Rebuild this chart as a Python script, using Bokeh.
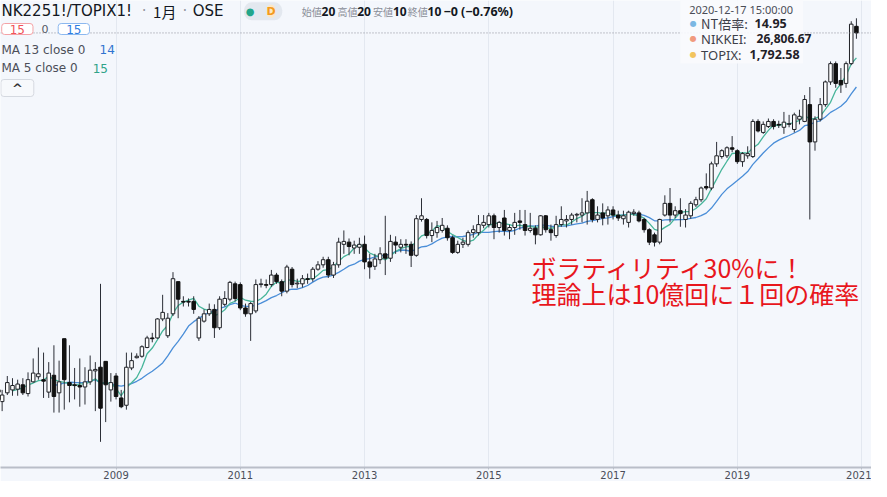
from bokeh.plotting import figure
from bokeh.models import Label, FixedTicker, Span, ColumnDataSource, Range1d, BoxAnnotation
from bokeh.embed import file_html
from bokeh.resources import INLINE

# ---- monthly NT ratio (NK225 futures / TOPIX futures), Jan 2007 .. Dec 2020 ----
opens = [10.07,10.00,9.91,10.03,10.07,10.08,10.14,10.02,10.18,10.25,10.21,10.04,
         10.27,10.03,10.77,10.17,10.14,10.13,10.11,10.18,10.33,10.38,10.46,10.07,
         10.26,9.96,9.86,10.37,10.51,10.53,10.65,10.78,10.78,11.04,10.81,11.11,
         11.55,11.28,11.28,11.28,10.78,11.01,11.11,11.17,10.92,11.24,11.31,11.52,
         11.51,11.19,11.11,11.15,11.51,11.51,11.51,11.64,11.55,11.42,11.72,11.52,
         11.52,11.59,11.59,11.72,11.78,11.85,11.64,11.78,12.06,12.09,12.01,12.02,
         12.06,11.82,11.76,11.85,11.93,11.87,12.09,12.02,12.06,12.06,11.91,12.40,
         12.40,12.18,12.22,12.25,12.28,12.15,11.95,12.06,12.06,12.22,12.22,12.32,
         12.33,12.45,12.29,12.42,12.25,12.29,12.38,12.33,12.25,12.28,12.19,12.45,
         12.26,12.18,12.33,12.38,12.40,12.46,12.46,12.49,12.67,12.40,12.49,12.45,
         12.53,12.46,12.41,12.36,12.48,12.49,12.40,12.26,12.19,12.09,12.46,12.62,
         12.46,12.52,12.40,12.45,12.60,12.67,12.85,12.83,13.16,13.26,13.27,13.38,
         13.34,13.19,13.27,13.26,13.74,13.59,13.67,13.74,13.70,13.66,13.70,13.63,
         13.77,13.74,13.97,13.46,13.77,13.97,14.28,14.53,14.30,14.26,14.53,15.04]
highs = [10.14,10.10,10.07,10.26,10.23,10.21,10.23,10.31,10.50,10.65,10.58,10.45,
         10.68,10.47,10.77,10.68,10.37,10.50,10.38,10.54,10.45,11.52,10.46,10.30,
         10.30,10.07,10.58,10.58,10.57,10.68,10.81,10.85,11.05,11.37,11.12,11.68,
         11.55,11.35,11.32,11.35,11.08,11.17,11.25,11.24,11.35,11.42,11.56,11.55,
         11.54,11.25,11.27,11.58,11.59,11.58,11.71,11.67,11.58,11.78,11.75,11.59,
         11.64,11.66,11.75,11.83,11.89,11.89,11.82,12.15,12.25,12.14,12.11,12.15,
         12.18,11.93,11.93,12.02,12.45,12.19,12.17,12.13,12.13,12.10,12.46,12.69,
         12.42,12.36,12.38,12.42,12.32,12.18,12.11,12.15,12.25,12.32,12.46,12.46,
         12.49,12.48,12.38,12.53,12.33,12.49,12.53,12.53,12.49,12.32,12.46,12.46,
         12.33,12.45,12.58,12.46,12.49,12.49,12.69,12.79,12.69,12.58,12.62,12.58,
         12.58,12.52,12.52,12.52,12.54,12.52,12.42,12.28,12.22,12.41,12.73,12.83,
         12.58,12.69,12.54,12.65,12.71,12.85,13.03,13.19,13.46,13.36,13.40,13.54,
         13.36,13.32,13.40,13.77,13.77,13.74,13.78,13.77,13.75,13.87,13.83,13.86,
         13.90,14.10,14.21,13.81,14.06,14.30,14.56,14.56,14.47,14.56,15.11,15.15]
lows = [9.94,9.84,9.78,10.00,9.99,9.99,10.00,9.98,10.17,10.21,9.96,9.96,
        9.76,9.76,9.80,9.90,9.94,9.84,9.87,10.14,9.78,9.36,9.63,9.91,
        9.94,9.82,9.80,10.34,10.50,10.51,10.64,10.72,10.77,11.01,10.78,11.08,
        11.05,11.21,11.21,11.11,10.74,10.99,11.08,10.78,10.89,11.21,11.28,11.28,
        11.16,11.07,10.74,11.12,11.47,11.46,11.48,11.52,11.35,11.39,11.47,11.46,
        11.47,11.52,11.55,11.70,11.74,11.60,11.60,11.74,11.93,11.91,11.93,11.93,
        11.72,11.59,11.71,11.79,11.64,11.82,11.93,11.95,11.93,11.75,11.89,12.37,
        12.14,12.09,12.15,12.22,12.11,11.93,11.93,12.01,12.03,12.15,12.18,12.28,
        12.29,12.13,12.22,12.18,12.13,12.19,12.26,12.18,12.22,12.06,12.18,12.22,
        12.11,12.15,12.30,12.29,12.33,12.36,12.36,12.33,12.36,12.36,12.32,12.33,
        12.40,12.38,12.33,12.29,12.45,12.36,12.22,12.05,12.03,12.06,12.44,12.36,
        12.42,12.30,12.29,12.41,12.57,12.64,12.80,12.80,13.12,13.23,13.24,13.32,
        13.16,13.12,13.23,13.24,13.59,13.57,13.65,13.63,13.65,13.57,13.66,13.59,
        13.70,13.73,12.40,13.34,13.74,13.94,14.24,14.20,14.13,14.20,14.51,14.87]
closes = [10.04,9.94,10.00,10.17,10.13,10.15,10.03,10.21,10.30,10.29,10.19,10.30,
          9.98,10.18,10.21,10.13,10.13,10.11,10.18,10.34,10.35,9.82,10.14,10.17,
          9.98,9.84,10.38,10.47,10.53,10.66,10.78,10.77,11.04,11.13,11.05,11.59,
          11.31,11.27,11.27,11.17,11.05,11.11,11.17,10.92,11.31,11.32,11.54,11.32,
          11.19,11.11,11.25,11.51,11.52,11.50,11.64,11.55,11.42,11.75,11.51,11.53,
          11.59,11.58,11.72,11.78,11.85,11.64,11.78,12.09,12.10,12.03,12.05,12.06,
          11.82,11.75,11.86,11.93,11.87,12.10,12.05,12.06,12.05,11.91,12.41,12.45,
          12.18,12.25,12.29,12.32,12.15,11.95,12.06,12.09,12.22,12.26,12.33,12.36,
          12.45,12.29,12.36,12.25,12.29,12.36,12.36,12.25,12.28,12.19,12.45,12.26,
          12.22,12.33,12.40,12.40,12.46,12.47,12.49,12.65,12.40,12.46,12.42,12.53,
          12.46,12.42,12.45,12.50,12.50,12.38,12.26,12.09,12.09,12.40,12.62,12.46,
          12.52,12.48,12.46,12.62,12.67,12.83,12.83,13.16,13.27,13.34,13.38,13.36,
          13.19,13.30,13.30,13.74,13.61,13.70,13.74,13.67,13.69,13.73,13.71,13.83,
          13.81,14.04,13.46,13.77,13.97,14.28,14.53,14.26,14.24,14.53,15.07,14.95]

tick_months = [0, 24, 48, 72, 96, 120, 144, 168]
tick_labels = ["2007", "2009", "2011", "2013", "2015", "2017", "2019", "2021"]
last_price = 14.95

# ---- layout helpers (reference pixel -> data) ----
def X(px):
    return (px + 4.8) / 5.225
def Y(py):
    return 15.447 - py * 0.01344

X_LO, X_HI = X(4), X(883)
Y_LO, Y_HI = Y(479), Y(4)

BG = "#f4f7fc"
UI = "DejaVu Sans"
NS = "Noto Sans"
JP = "Noto Sans CJK JP"

n = len(closes)
idx = list(range(n))

def sma(vals, k):
    out = []
    for i in range(len(vals)):
        out.append(float("nan") if i + 1 < k else sum(vals[i + 1 - k:i + 1]) / k)
    return out

ma13 = sma(closes, 13)
ma5 = sma(closes, 5)

up = [i for i in idx if closes[i] >= opens[i]]
dn = [i for i in idx if closes[i] < opens[i]]
src_up = ColumnDataSource(dict(x=up, top=[closes[i] for i in up], bottom=[opens[i] for i in up]))
src_dn = ColumnDataSource(dict(x=dn, top=[opens[i] for i in dn], bottom=[closes[i] for i in dn]))

p = figure(width=871, height=481, output_backend="svg", toolbar_location=None,
           x_range=Range1d(X_LO, X_HI), y_range=Range1d(Y_LO, Y_HI),
           y_axis_location=None,
           min_border_left=0, min_border_right=0, min_border_top=0, min_border_bottom=14)
p.background_fill_color = BG
p.border_fill_color = BG
p.outline_line_color = None
p.ygrid.visible = False
p.xgrid.ticker = FixedTicker(ticks=tick_months)
p.xgrid.grid_line_color = "#e3e8f0"
p.xaxis.ticker = FixedTicker(ticks=tick_months)
p.xaxis.major_label_overrides = {m: l for m, l in zip(tick_months, tick_labels)}
p.xaxis.axis_line_color = "#b9bec8"
p.xaxis.axis_line_width = 2
p.xaxis.major_tick_line_color = "#b9bec8"
p.xaxis.major_tick_in = 0
p.xaxis.major_tick_out = 2
p.xaxis.minor_tick_line_color = None
p.xaxis.major_label_standoff = 1
p.xaxis.major_label_text_font = UI
p.xaxis.major_label_text_font_size = "10px"
p.xaxis.major_label_text_color = "#4a4e59"

# last price line
p.add_layout(Span(location=last_price, dimension="width", line_color="#8c9099",
                  line_dash="1 2", line_width=1))

# moving averages
p.line(idx, ma13, line_color="#4a8ed8", line_width=1.3)
p.line(idx, ma5, line_color="#47b59a", line_width=1.3)

# candles
p.segment(x0=idx, y0=highs, x1=idx, y1=lows, line_color="#2b2e36", line_width=1)
p.vbar(x="x", width=0.68, top="top", bottom="bottom", source=src_up,
       fill_color="#ffffff", line_color="#1e2026", line_width=1)
p.vbar(x="x", width=0.68, top="top", bottom="bottom", source=src_dn,
       fill_color="#111111", line_color="#111111", line_width=1)

def lab(text, px, py, size="12px", color="#333333", font=UI, align="left",
        style="normal", **kw):
    l = Label(x=X(px), y=Y(py), text=text, text_font=font, text_font_size=size,
              text_color=color, text_align=align, text_baseline="middle",
              text_font_style=style, **kw)
    p.add_layout(l)
    return l

# header (row centre kept just low enough that the text boxes stay on the canvas)
HY = 15
lab("NK2251!/TOPIX1!", 5, HY, size="15px", color="#131722")
lab("·", 149, HY, size="15px", color="#9598a1", align="center")
lab("1月", 158, HY, size="15px", color="#131722", font=JP)
lab("·", 190, HY, size="15px", color="#9598a1", align="center")
lab("OSE", 198, HY, size="15px", color="#131722")
lab("\u00a0" * 9, 269, HY, size="12px", color="#131722",
    align="center", background_fill_color="#e3e8ef", border_radius=8, padding=2)
lab("●", 256, HY, size="10px", color="#22a68b", align="center")
lab("\u00a0\u00a0", 277, HY, size="10px", color="#131722", align="center",
    background_fill_color="#fde7c4", border_radius=7, padding=1)
lab("D", 277, HY, size="11px", color="#f39b1c", align="center", style="bold")

ohlc_names = ["始値", "高値", "安値", "終値"]
ohlc_vals = ["20", "20", "10", "10"]
ohlc_x = [308, 344, 380, 415]
for nm, vv, xx in zip(ohlc_names, ohlc_vals, ohlc_x):
    lab(nm, xx, HY, size="10px", color="#8a8e98", font=JP)
    lab(vv, xx + 20, HY, size="12px", color="#131722", font=NS, style="bold")
lab("−0 (−0.76%)", 451, HY, size="12.5px", color="#131722", font=NS, style="bold")

lab("15", 21, 33, size="12px", color="#f0525a", align="center",
    background_fill_color="#ffffff", border_line_color="#f4a2a6", border_radius=3,
    padding=dict(left=8, right=8, top=1, bottom=1))
lab("0", 49, 33, size="11px", color="#555a66", align="center")
lab("15", 78, 33, size="12px", color="#2f7de1", align="center",
    background_fill_color="#ffffff", border_line_color="#8cb8ef", border_radius=3,
    padding=dict(left=8, right=8, top=1, bottom=1))

lab("MA 13 close 0", 5, 54, size="12px", color="#4c4f59")
lab("14", 104, 54, size="12px", color="#2f74d0")
lab("MA 5 close 0", 5, 73, size="12px", color="#4c4f59")
lab("15", 97, 73, size="12px", color="#2fa389")
lab("^", 21, 93, size="13px", color="#333333", align="center", style="bold",
    background_fill_color="#f7f9fc", border_line_color="#d5d9e0", border_radius=3,
    padding=dict(left=11, right=11, top=1, bottom=1))

# data window (top right)
p.add_layout(BoxAnnotation(left=X(690), right=X(814), top=Y(0), bottom=Y(68),
                           fill_color="#f8fafd", fill_alpha=0.92, line_color=None))
lab("2020-12-17 15:00:00", 699, 13, size="11px", color="#4a4d57", font=NS)
lab("●", 703, 27, size="8px", color="#7cb7e3", align="center")
lab("NT倍率:", 711, 27, size="13px", color="#3d4049", font=JP)
lab("14.95", 765, 27, size="12.5px", color="#1f2128", font=NS, style="bold")
lab("●", 703, 43, size="8px", color="#f19a7e", align="center")
lab("NIKKEI:", 711, 43, size="13px", color="#3d4049", font=NS)
lab("26,806.67", 767, 43, size="12px", color="#1f2128", font=NS, style="bold")
lab("●", 703, 59, size="8px", color="#f2c45e", align="center")
lab("TOPIX:", 711, 59, size="13px", color="#3d4049", font=NS)
lab("1,792.58", 760, 59, size="12.5px", color="#1f2128", font=NS, style="bold")

# annotation
lab("ボラティリティ30%に！", 540, 275, size="25px", color="#e8161c", font=JP)
lab("理論上は10億回に１回の確率", 540, 302, size="25px", color="#e8161c", font=JP)

open("out.html", "w").write(file_html(p, INLINE))
